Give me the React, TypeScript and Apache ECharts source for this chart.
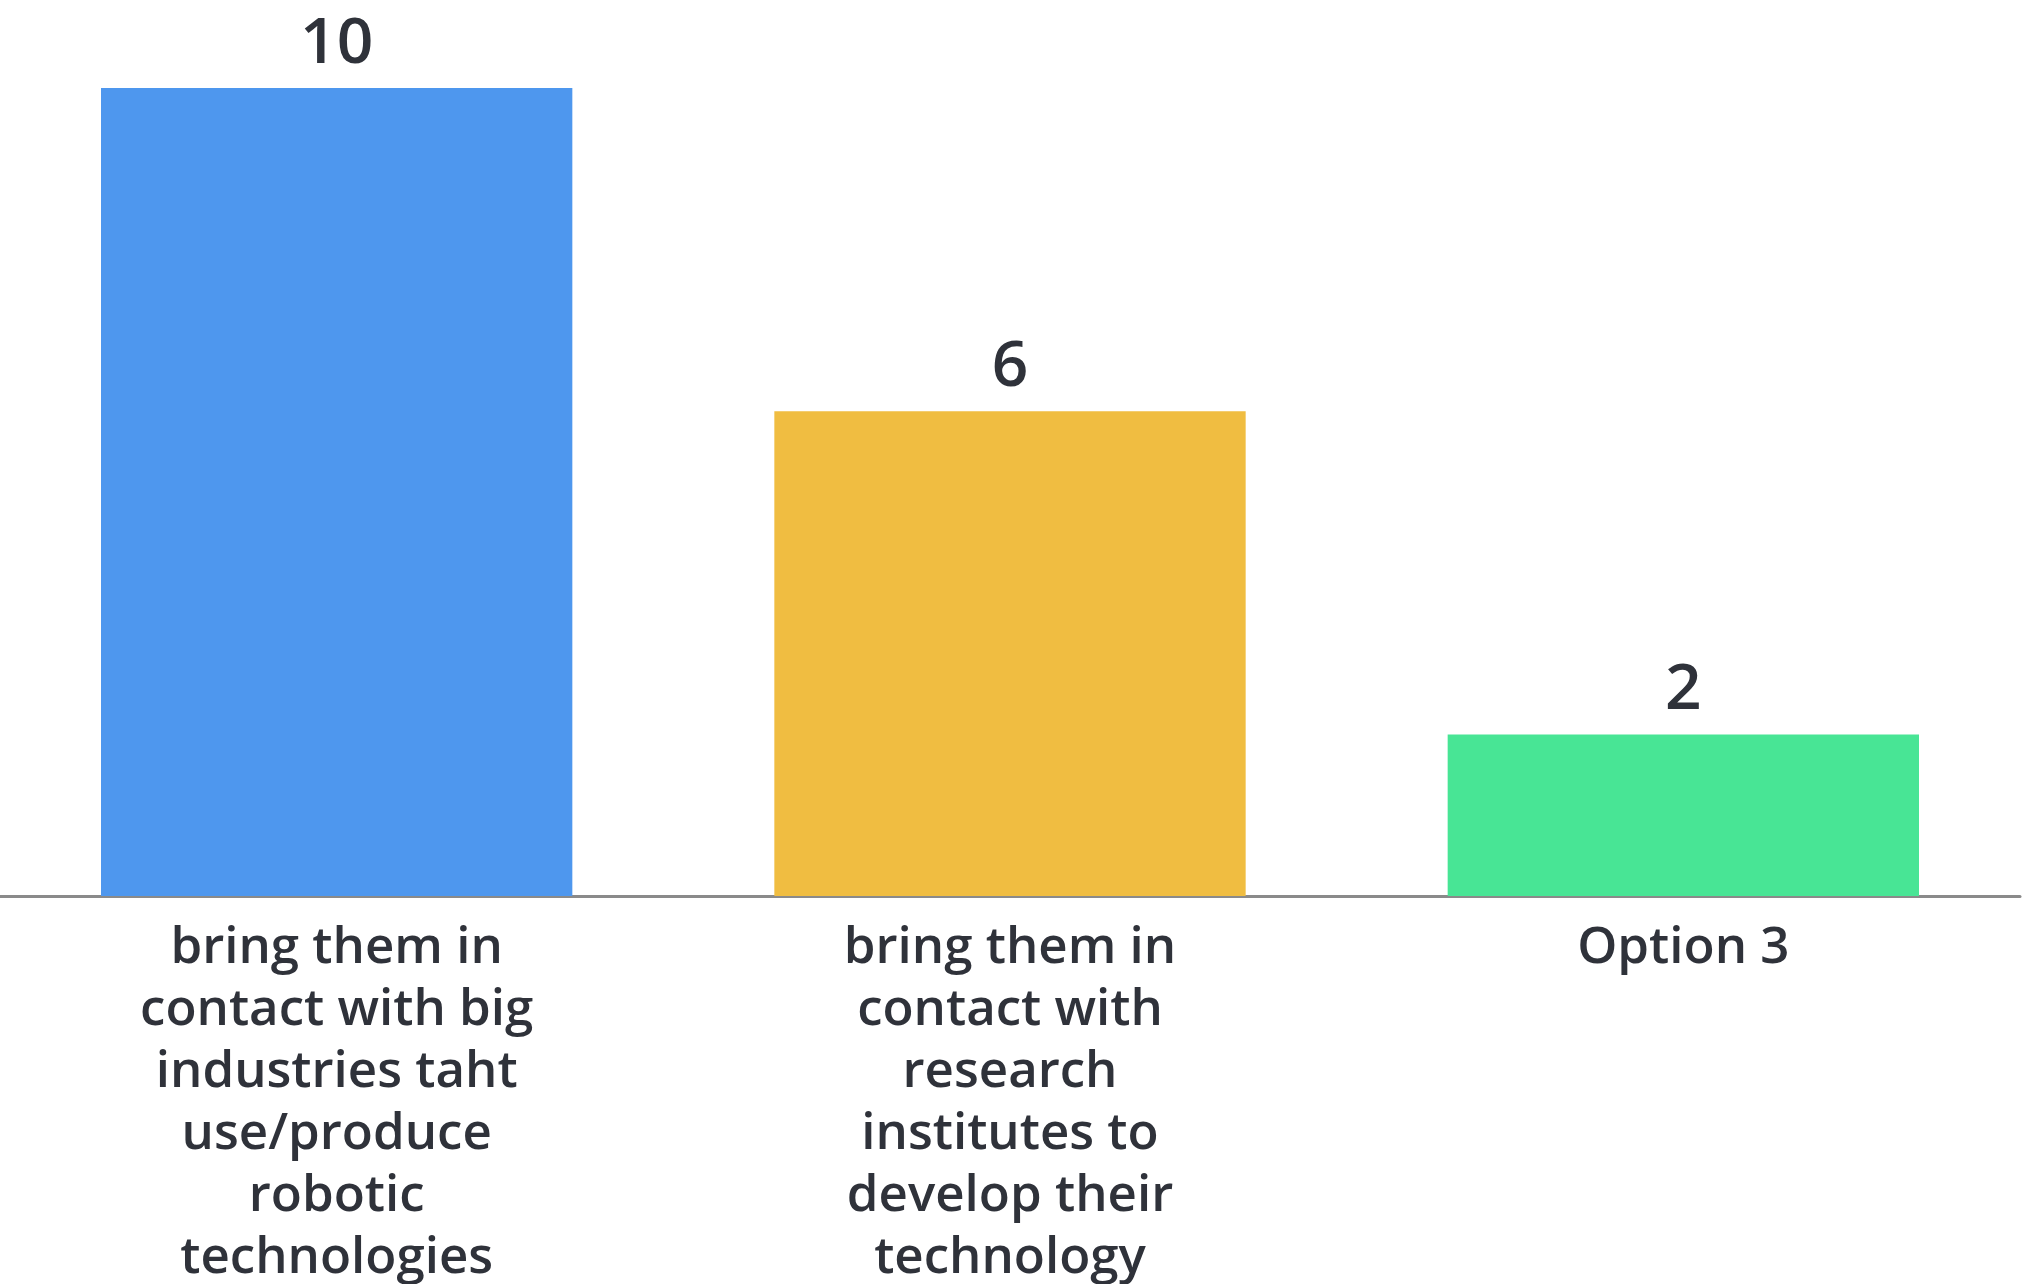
import React, { useEffect, useRef } from "react";
import * as echarts from "echarts";

const categories = [
  "bring them in\ncontact with big\nindustries taht\nuse/produce\nrobotic\ntechnologies",
  "bring them in\ncontact with\nresearch\ninstitutes to\ndevelop their\ntechnology",
  "Option 3",
];
const values = [10, 6, 2];
const colors = ["#4e97ee", "#f0bd41", "#48e595"];

export default function App() {
  const ref = useRef<HTMLDivElement>(null);
  useEffect(() => {
    if (!ref.current) return;
    const chart = echarts.init(ref.current, null, { renderer: "svg" });
    chart.setOption({
      animation: false,
      backgroundColor: "#ffffff",
      grid: { left: 0, right: 3, top: 88, bottom: 385, containLabel: false },
      xAxis: {
        type: "category",
        data: categories,
        axisLine: { show: true, lineStyle: { color: "#8a8a8a", width: 3 } },
        axisTick: { show: false },
        axisLabel: {
          interval: 0,
          color: "#2f323a",
          fontFamily: "Open Sans",
          fontWeight: 600,
          fontSize: 51,
          lineHeight: 62,
          margin: 16,
          align: "center",
        },
      },
      yAxis: {
        type: "value",
        min: 0,
        max: 10,
        show: false,
        splitLine: { show: false },
      },
      series: [
        {
          type: "bar",
          barCategoryGap: "30%",
          data: values.map((v, i) => ({ value: v, itemStyle: { color: colors[i] } })),
          label: {
            show: true,
            position: "top",
            distance: 18,
            color: "#2f323a",
            fontFamily: "Open Sans",
            fontWeight: 600,
            fontSize: 64,
          },
        },
      ],
    });
    return () => chart.dispose();
  }, []);
  return (
    <div
      ref={ref}
      style={{ position: "absolute", left: 0, top: 0, width: 2023, height: 1284 }}
    />
  );
}
